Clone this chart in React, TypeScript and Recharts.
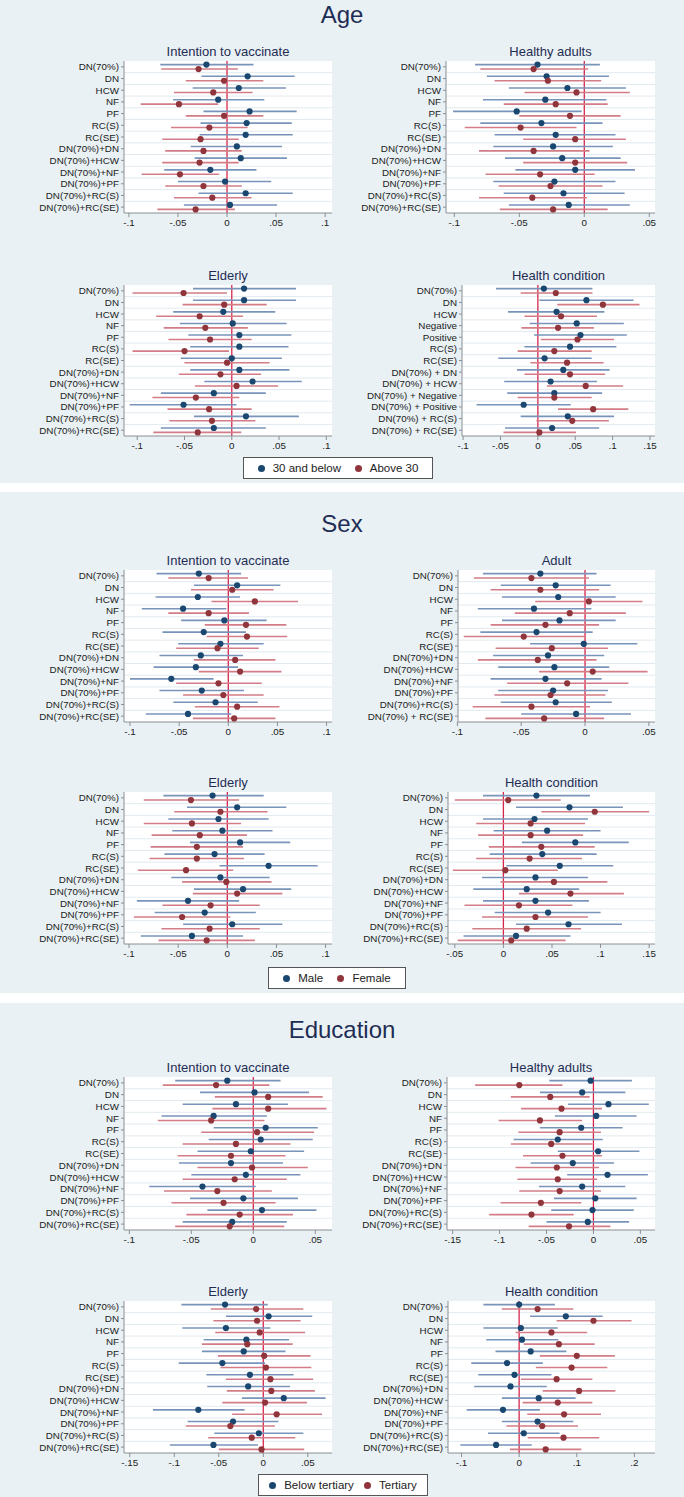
import React from 'react';
import { ScatterChart, Scatter, XAxis, YAxis, ErrorBar, ReferenceLine, CartesianGrid } from 'recharts';

const BLUE = '#1a476f';
const BLUE_CI = '#7894bb';
const RED = '#90353b';
const RED_CI = '#d27d87';
const ZERO = '#d8264a';
const GRID = '#e2eaef';
const BG = '#e9f1f4';
const INK = '#1f2d55';
const FONT = '"Liberation Sans", Arial, Helvetica, sans-serif';

const rowsStd = ['DN(70%)', 'DN', 'HCW', 'NF', 'PF', 'RC(S)', 'RC(SE)', 'DN(70%)+DN', 'DN(70%)+HCW', 'DN(70%)+NF', 'DN(70%)+PF', 'DN(70%)+RC(S)', 'DN(70%)+RC(SE)'];
const rowsHealthAge = ['DN(70%)', 'DN', 'HCW', 'Negative', 'Positive', 'RC(S)', 'RC(SE)', 'DN(70%) + DN', 'DN(70%) + HCW', 'DN(70%) + Negative', 'DN(70%) + Positive', 'DN(70%) + RC(S)', 'DN(70%) + RC(SE)'];
const rowsAdultSex = ['DN(70%)', 'DN', 'HCW', 'NF', 'PF', 'RC(S)', 'RC(SE)', 'DN(70%)+DN', 'DN(70%)+HCW', 'DN(70%)+NF', 'DN(70%)+PF', 'DN(70%)+RC(S)', 'DN(70%) + RC(SE)'];

const ticksA = [-0.1, -0.05, 0, 0.05, 0.1];
const ticksB = [-0.1, -0.05, 0, 0.05];
const ticksC = [-0.1, -0.05, 0, 0.05, 0.1, 0.15];
const ticksD = [-0.05, 0, 0.05, 0.1, 0.15];
const ticksE = [-0.15, -0.1, -0.05, 0, 0.05];
const ticksF = [-0.1, 0, 0.1, 0.2];

// [lower, estimate, upper]
const ageIntentYoung = [[-0.068, -0.021, 0.027], [-0.026, 0.021, 0.069], [-0.035, 0.012, 0.060], [-0.055, -0.009, 0.038], [-0.024, 0.023, 0.071], [-0.027, 0.020, 0.066], [-0.028, 0.019, 0.067], [-0.037, 0.010, 0.056], [-0.033, 0.014, 0.061], [-0.064, -0.017, 0.030], [-0.050, -0.002, 0.045], [-0.029, 0.019, 0.067], [-0.044, 0.003, 0.051]];
const ageIntentOld = [[-0.067, -0.029, 0.011], [-0.042, -0.003, 0.037], [-0.054, -0.014, 0.026], [-0.088, -0.049, -0.009], [-0.042, -0.003, 0.037], [-0.057, -0.018, 0.021], [-0.066, -0.027, 0.012], [-0.063, -0.024, 0.015], [-0.066, -0.028, 0.012], [-0.087, -0.048, -0.008], [-0.063, -0.024, 0.015], [-0.054, -0.015, 0.025], [-0.071, -0.032, 0.008]];
const ageHealthyYoung = [[-0.084, -0.036, 0.012], [-0.075, -0.029, 0.019], [-0.058, -0.013, 0.032], [-0.078, -0.030, 0.017], [-0.101, -0.052, -0.002], [-0.080, -0.033, 0.014], [-0.069, -0.022, 0.024], [-0.070, -0.024, 0.022], [-0.061, -0.017, 0.028], [-0.053, -0.007, 0.039], [-0.070, -0.023, 0.024], [-0.062, -0.016, 0.031], [-0.058, -0.012, 0.035]];
const ageHealthyOld = [[-0.080, -0.039, 0.003], [-0.069, -0.028, 0.013], [-0.046, -0.006, 0.035], [-0.062, -0.022, 0.018], [-0.050, -0.011, 0.028], [-0.092, -0.049, -0.006], [-0.047, -0.007, 0.032], [-0.081, -0.039, 0.004], [-0.047, -0.007, 0.033], [-0.076, -0.034, 0.008], [-0.066, -0.026, 0.014], [-0.081, -0.040, 0.002], [-0.065, -0.024, 0.018]];
const ageElderlyYoung = [[-0.041, 0.013, 0.068], [-0.041, 0.013, 0.068], [-0.062, -0.009, 0.046], [-0.055, 0.001, 0.058], [-0.046, 0.008, 0.063], [-0.044, 0.008, 0.060], [-0.054, 0.000, 0.053], [-0.044, 0.008, 0.061], [-0.029, 0.022, 0.074], [-0.075, -0.019, 0.036], [-0.108, -0.051, 0.005], [-0.040, 0.015, 0.071], [-0.075, -0.019, 0.036]];
const ageElderlyOld = [[-0.105, -0.051, -0.005], [-0.052, -0.008, 0.037], [-0.080, -0.034, 0.012], [-0.072, -0.028, 0.017], [-0.067, -0.023, 0.021], [-0.105, -0.050, -0.003], [-0.050, -0.005, 0.040], [-0.056, -0.012, 0.031], [-0.039, 0.005, 0.049], [-0.084, -0.038, 0.008], [-0.068, -0.024, 0.021], [-0.066, -0.021, 0.025], [-0.083, -0.036, 0.010]];
const ageHealthYoung = [[-0.056, 0.008, 0.073], [0.002, 0.065, 0.128], [-0.040, 0.025, 0.089], [-0.011, 0.052, 0.115], [-0.005, 0.057, 0.119], [-0.018, 0.043, 0.105], [-0.053, 0.009, 0.072], [-0.028, 0.034, 0.096], [-0.045, 0.017, 0.079], [-0.041, 0.022, 0.086], [-0.082, -0.019, 0.044], [-0.023, 0.040, 0.102], [-0.044, 0.019, 0.082]];
const ageHealthOld = [[-0.023, 0.024, 0.073], [0.026, 0.087, 0.136], [-0.018, 0.031, 0.079], [-0.022, 0.027, 0.075], [0.004, 0.053, 0.102], [-0.027, 0.022, 0.072], [-0.010, 0.039, 0.088], [-0.018, 0.043, 0.090], [0.012, 0.064, 0.114], [-0.027, 0.022, 0.072], [0.027, 0.074, 0.121], [-0.002, 0.046, 0.095], [-0.046, 0.002, 0.051]];

const sexIntentMale = [[-0.073, -0.030, 0.013], [-0.035, 0.009, 0.053], [-0.074, -0.031, 0.012], [-0.088, -0.046, -0.002], [-0.048, -0.004, 0.039], [-0.067, -0.025, 0.018], [-0.051, -0.008, 0.036], [-0.070, -0.028, 0.015], [-0.076, -0.033, 0.010], [-0.100, -0.058, -0.015], [-0.070, -0.027, 0.016], [-0.056, -0.013, 0.030], [-0.084, -0.041, 0.003]];
const sexIntentFemale = [[-0.061, -0.020, 0.020], [-0.038, 0.004, 0.046], [-0.017, 0.027, 0.071], [-0.061, -0.020, 0.021], [-0.024, 0.018, 0.059], [-0.022, 0.019, 0.060], [-0.053, -0.011, 0.031], [-0.035, 0.007, 0.048], [-0.030, 0.012, 0.054], [-0.053, -0.010, 0.034], [-0.046, -0.005, 0.036], [-0.034, 0.009, 0.052], [-0.036, 0.006, 0.048]];
const sexAdultMale = [[-0.080, -0.035, 0.009], [-0.066, -0.023, 0.020], [-0.065, -0.021, 0.024], [-0.084, -0.040, 0.005], [-0.065, -0.020, 0.024], [-0.082, -0.038, 0.006], [-0.043, -0.001, 0.041], [-0.072, -0.029, 0.015], [-0.068, -0.024, 0.019], [-0.074, -0.031, 0.013], [-0.068, -0.025, 0.018], [-0.066, -0.023, 0.021], [-0.050, -0.007, 0.036]];
const sexAdultFemale = [[-0.087, -0.042, 0.003], [-0.074, -0.035, 0.011], [-0.039, 0.003, 0.045], [-0.055, -0.012, 0.032], [-0.074, -0.031, 0.011], [-0.095, -0.048, 0.000], [-0.070, -0.026, 0.018], [-0.084, -0.037, 0.009], [-0.036, 0.006, 0.049], [-0.061, -0.014, 0.034], [-0.071, -0.027, 0.016], [-0.088, -0.042, 0.004], [-0.078, -0.032, 0.015]];
const sexElderlyMale = [[-0.065, -0.015, 0.037], [-0.041, 0.010, 0.060], [-0.060, -0.009, 0.042], [-0.056, -0.005, 0.046], [-0.038, 0.013, 0.064], [-0.064, -0.013, 0.038], [-0.008, 0.042, 0.092], [-0.057, -0.007, 0.043], [-0.034, 0.016, 0.065], [-0.092, -0.040, 0.012], [-0.074, -0.023, 0.029], [-0.045, 0.005, 0.056], [-0.088, -0.036, 0.016]];
const sexElderlyFemale = [[-0.085, -0.037, 0.012], [-0.054, -0.007, 0.041], [-0.085, -0.036, 0.014], [-0.077, -0.028, 0.020], [-0.078, -0.031, 0.016], [-0.079, -0.031, 0.017], [-0.091, -0.042, 0.006], [-0.046, -0.001, 0.045], [-0.035, 0.010, 0.056], [-0.066, -0.017, 0.033], [-0.095, -0.046, 0.003], [-0.067, -0.018, 0.033], [-0.070, -0.021, 0.028]];
const sexHealthMale = [[-0.021, 0.034, 0.089], [0.013, 0.068, 0.123], [-0.021, 0.032, 0.087], [-0.010, 0.045, 0.100], [0.019, 0.074, 0.129], [-0.014, 0.040, 0.096], [0.003, 0.058, 0.113], [-0.022, 0.033, 0.087], [-0.031, 0.024, 0.078], [-0.021, 0.033, 0.088], [-0.009, 0.046, 0.100], [0.013, 0.067, 0.122], [-0.041, 0.013, 0.069]];
const sexHealthFemale = [[-0.050, 0.005, 0.059], [0.039, 0.094, 0.150], [-0.028, 0.028, 0.084], [-0.026, 0.028, 0.082], [-0.015, 0.039, 0.094], [-0.028, 0.027, 0.081], [-0.052, 0.002, 0.056], [-0.003, 0.052, 0.107], [0.016, 0.069, 0.124], [-0.040, 0.016, 0.071], [-0.022, 0.033, 0.087], [-0.032, 0.024, 0.080], [-0.047, 0.008, 0.064]];

const eduIntentBelow = [[-0.063, -0.021, 0.022], [-0.043, 0.001, 0.045], [-0.057, -0.014, 0.028], [-0.074, -0.032, 0.011], [-0.032, 0.010, 0.052], [-0.036, 0.006, 0.048], [-0.045, -0.002, 0.041], [-0.060, -0.018, 0.024], [-0.050, -0.006, 0.038], [-0.084, -0.041, 0.002], [-0.051, -0.008, 0.036], [-0.037, 0.007, 0.051], [-0.057, -0.017, 0.027]];
const eduIntentTertiary = [[-0.073, -0.030, 0.013], [-0.031, 0.012, 0.056], [-0.033, 0.012, 0.059], [-0.077, -0.034, 0.009], [-0.042, 0.003, 0.049], [-0.057, -0.014, 0.030], [-0.061, -0.018, 0.026], [-0.045, -0.001, 0.044], [-0.057, -0.015, 0.027], [-0.072, -0.029, 0.015], [-0.066, -0.024, 0.018], [-0.054, -0.011, 0.032], [-0.063, -0.019, 0.025]];
const eduHealthyBelow = [[-0.047, -0.003, 0.041], [-0.057, -0.012, 0.034], [-0.027, 0.016, 0.059], [-0.041, 0.003, 0.046], [-0.057, -0.013, 0.031], [-0.085, -0.038, 0.010], [-0.038, 0.005, 0.049], [-0.067, -0.022, 0.022], [-0.028, 0.015, 0.058], [-0.058, -0.012, 0.034], [-0.042, 0.002, 0.046], [-0.045, -0.001, 0.043], [-0.050, -0.006, 0.038]];
const eduHealthyTertiary = [[-0.126, -0.079, -0.033], [-0.088, -0.046, -0.004], [-0.077, -0.034, 0.009], [-0.101, -0.057, -0.012], [-0.080, -0.036, 0.008], [-0.088, -0.045, -0.001], [-0.075, -0.033, 0.009], [-0.083, -0.039, 0.006], [-0.081, -0.038, 0.004], [-0.079, -0.036, 0.008], [-0.099, -0.056, -0.013], [-0.111, -0.066, -0.021], [-0.069, -0.026, 0.018]];
const eduElderlyBelow = [[-0.092, -0.043, 0.005], [-0.042, 0.006, 0.055], [-0.091, -0.042, 0.008], [-0.067, -0.019, 0.029], [-0.069, -0.022, 0.025], [-0.095, -0.046, 0.002], [-0.064, -0.015, 0.034], [-0.063, -0.017, 0.030], [-0.024, 0.023, 0.070], [-0.124, -0.073, -0.021], [-0.085, -0.034, 0.017], [-0.055, -0.005, 0.045], [-0.105, -0.056, -0.006]];
const eduElderlyTertiary = [[-0.059, -0.008, 0.045], [-0.056, -0.007, 0.042], [-0.054, -0.004, 0.047], [-0.069, -0.018, 0.033], [-0.051, 0.001, 0.053], [-0.048, 0.003, 0.054], [-0.042, 0.008, 0.056], [-0.041, 0.009, 0.058], [-0.046, 0.002, 0.049], [-0.035, 0.015, 0.066], [-0.087, -0.037, 0.013], [-0.062, -0.013, 0.036], [-0.050, -0.002, 0.046]];
const eduHealthBelow = [[-0.062, 0.000, 0.062], [0.019, 0.081, 0.145], [-0.062, 0.003, 0.067], [-0.057, 0.005, 0.068], [-0.041, 0.020, 0.082], [-0.083, -0.021, 0.041], [-0.071, -0.008, 0.056], [-0.078, -0.015, 0.048], [-0.030, 0.034, 0.098], [-0.091, -0.028, 0.036], [-0.030, 0.032, 0.094], [-0.054, 0.008, 0.070], [-0.102, -0.040, 0.022]];
const eduHealthTertiary = [[-0.030, 0.032, 0.094], [0.065, 0.129, 0.195], [-0.006, 0.056, 0.118], [0.008, 0.069, 0.131], [0.036, 0.100, 0.166], [0.029, 0.091, 0.153], [0.003, 0.065, 0.127], [0.041, 0.104, 0.167], [0.006, 0.067, 0.127], [0.014, 0.078, 0.142], [-0.022, 0.040, 0.102], [0.015, 0.077, 0.139], [-0.016, 0.046, 0.108]];

const fmtTick = (v: number) => (v === 0 ? '0' : v.toFixed(2).replace(/0+$/, '').replace('0.', '.'));

const YW = 120;
const XH = 24;

const dot = (color: string) => (p: any) => <circle cx={p.cx} cy={p.cy} r={3.1} fill={color} />;

const rowTick = (rows: string[]) => (p: any) => (
  <text x={p.x} y={p.y} dy={3.5} textAnchor="end" fontSize={9.8} fill="#222" fontFamily={FONT}>
    {rows[p.payload.value]}
  </text>
);

function Panel({ title, rows, blue, red, domain, ticks, x, y, w, h }: any) {
  const build = (set: number[][], off: number) =>
    set.map(([lo, pt, hi], i) => ({ x: pt, y: i + off, err: [pt - lo, hi - pt] }));
  const tickStyle = { fontSize: 9.8, fill: '#222', fontFamily: FONT };
  return (
    <>
      <div style={{ position: 'absolute', left: x - 20, width: w + 40, top: y - 17, textAlign: 'center', font: `13px ${FONT}`, color: INK }}>{title}</div>
      <div style={{ position: 'absolute', left: x - YW, top: y }}>
        <ScatterChart width={YW + w + 12} height={h + XH} margin={{ top: 0, right: 12, bottom: 0, left: 0 }}>
          <CartesianGrid fill="#ffffff" horizontal={false} vertical={false} />
          <XAxis type="number" dataKey="x" domain={domain} ticks={ticks} allowDataOverflow interval={0}
            height={XH} tickFormatter={fmtTick} tick={tickStyle} tickSize={4} tickMargin={2}
            axisLine={{ stroke: '#8a8f94' }} tickLine={{ stroke: '#8a8f94' }} />
          <YAxis type="number" dataKey="y" domain={[-0.5, rows.length - 0.5]} reversed allowDataOverflow
            ticks={rows.map((_: string, i: number) => i)} interval={0} width={YW}
            tick={rowTick(rows)} tickSize={3} tickMargin={2}
            axisLine={{ stroke: '#8a8f94' }} tickLine={{ stroke: '#8a8f94' }} />
          {rows.slice(1).map((_: string, i: number) => (
            <ReferenceLine key={i} y={i + 0.5} stroke={GRID} strokeWidth={1} />
          ))}
          <ReferenceLine x={0} stroke={ZERO} strokeWidth={1.3} />
          <Scatter data={build(blue, -0.19)} shape={dot(BLUE)} isAnimationActive={false}>
            <ErrorBar dataKey="err" direction="x" width={0} stroke={BLUE_CI} strokeWidth={1.6} />
          </Scatter>
          <Scatter data={build(red, 0.19)} shape={dot(RED)} isAnimationActive={false}>
            <ErrorBar dataKey="err" direction="x" width={0} stroke={RED_CI} strokeWidth={1.6} />
          </Scatter>
        </ScatterChart>
      </div>
    </>
  );
}

function LegendBox({ left, top, width, names }: any) {
  return (
    <div style={{ position: 'absolute', left, top, width, height: 20, background: '#fff', border: '1px solid #555',
      display: 'flex', justifyContent: 'space-evenly', alignItems: 'center', font: `11.5px ${FONT}`, color: '#222' }}>
      {names.map((n: string, i: number) => (
        <span key={n} style={{ display: 'flex', alignItems: 'center' }}>
          <span style={{ width: 7, height: 7, borderRadius: 4, background: i === 0 ? BLUE : RED, marginRight: 8 }} />
          {n}
        </span>
      ))}
    </div>
  );
}

const sectionTitle = (text: string, top: number) => (
  <div style={{ position: 'absolute', left: 0, width: 684, top, textAlign: 'center', font: `24px ${FONT}`, color: INK }}>{text}</div>
);

export default function App() {
  const L = { x: 124, w: 208 };
  return (
    <div style={{ position: 'absolute', left: 0, top: 0, width: 684, height: 1497, background: '#fff', overflow: 'hidden' }}>
      <div style={{ position: 'absolute', left: 0, top: 0, width: 684, height: 483, background: BG }} />
      <div style={{ position: 'absolute', left: 0, top: 492, width: 684, height: 501, background: BG }} />
      <div style={{ position: 'absolute', left: 0, top: 1003, width: 684, height: 494, background: BG }} />

      {sectionTitle('Age', 1)}
      <Panel title="Intention to vaccinate" rows={rowsStd} blue={ageIntentYoung} red={ageIntentOld} domain={[-0.105, 0.107]} ticks={ticksA} x={L.x} w={L.w} y={61} h={152} />
      <Panel title="Healthy adults" rows={rowsStd} blue={ageHealthyYoung} red={ageHealthyOld} domain={[-0.1064, 0.0544]} ticks={ticksB} x={446} w={209} y={61} h={152} />
      <Panel title="Elderly" rows={rowsStd} blue={ageElderlyYoung} red={ageElderlyOld} domain={[-0.114, 0.106]} ticks={ticksA} x={L.x} w={L.w} y={285} h={151} />
      <Panel title="Health condition" rows={rowsHealthAge} blue={ageHealthYoung} red={ageHealthOld} domain={[-0.1015, 0.1567]} ticks={ticksC} x={462} w={193} y={285} h={151} />
      <LegendBox left={243} top={457} width={188} names={['30 and below', 'Above 30']} />

      {sectionTitle('Sex', 510)}
      <Panel title="Intention to vaccinate" rows={rowsStd} blue={sexIntentMale} red={sexIntentFemale} domain={[-0.1061, 0.1055]} ticks={ticksA} x={L.x} w={L.w} y={570} h={152} />
      <Panel title="Adult" rows={rowsAdultSex} blue={sexAdultMale} red={sexAdultFemale} domain={[-0.0995, 0.0548]} ticks={ticksB} x={458} w={197} y={570} h={152} />
      <Panel title="Elderly" rows={rowsStd} blue={sexElderlyMale} red={sexElderlyFemale} domain={[-0.1051, 0.1065]} ticks={ticksA} x={L.x} w={L.w} y={792} h={152} />
      <Panel title="Health condition" rows={rowsStd} blue={sexHealthMale} red={sexHealthFemale} domain={[-0.057, 0.156]} ticks={ticksD} x={448} w={207} y={792} h={152} />
      <LegendBox left={268} top={967} width={136} names={['Male', 'Female']} />

      {sectionTitle('Education', 1016)}
      <Panel title="Intention to vaccinate" rows={rowsStd} blue={eduIntentBelow} red={eduIntentTertiary} domain={[-0.1043, 0.0635]} ticks={ticksB} x={L.x} w={L.w} y={1077} h={153} />
      <Panel title="Healthy adults" rows={rowsStd} blue={eduHealthyBelow} red={eduHealthyTertiary} domain={[-0.156, 0.0656]} ticks={ticksE} x={447} w={208} y={1077} h={153} />
      <Panel title="Elderly" rows={rowsStd} blue={eduElderlyBelow} red={eduElderlyTertiary} domain={[-0.1565, 0.0772]} ticks={ticksE} x={L.x} w={L.w} y={1301} h={152} />
      <Panel title="Health condition" rows={rowsStd} blue={eduHealthBelow} red={eduHealthTertiary} domain={[-0.1234, 0.2357]} ticks={ticksF} x={448} w={207} y={1301} h={152} />
      <LegendBox left={258} top={1474} width={168} names={['Below tertiary', 'Tertiary']} />
    </div>
  );
}
